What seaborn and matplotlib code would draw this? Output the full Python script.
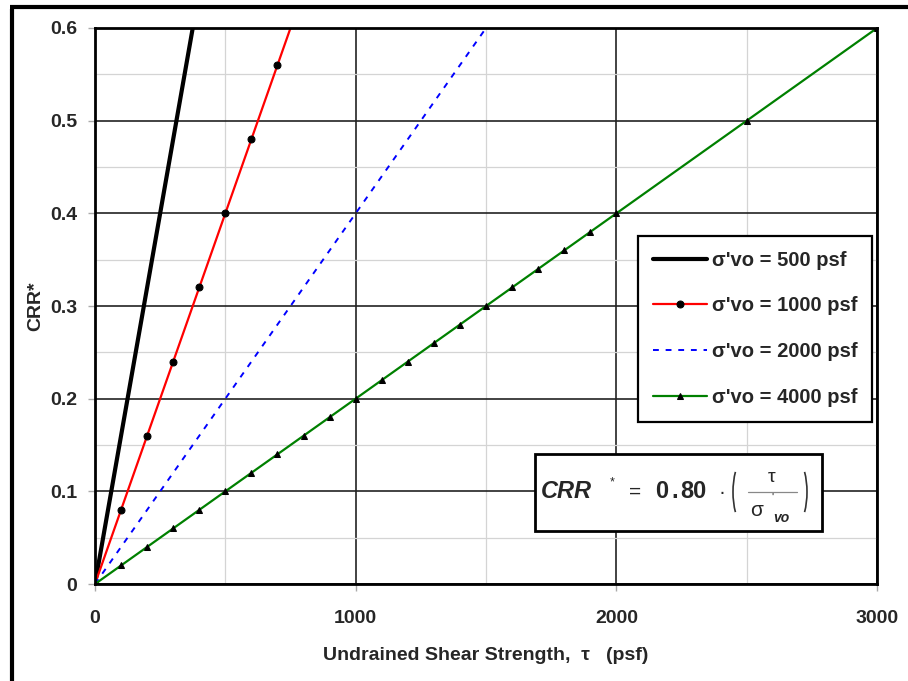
import matplotlib
matplotlib.use("Agg")
import matplotlib.pyplot as plt
from matplotlib.patches import Rectangle, Arc
from matplotlib.ticker import MultipleLocator
import numpy as np
import pandas as pd
import seaborn as sns

# values
tau_500 = [0, 375]
crr_500 = [0, 0.6]

tau_1000 = [0, 100, 200, 300, 400, 500, 600, 700, 750]
crr_1000 = [0, 0.08, 0.16, 0.24, 0.32, 0.40, 0.48, 0.56, 0.60]

tau_2000 = [0, 1500]
crr_2000 = [0, 0.6]

tau_4000 = [0, 100, 200, 300, 400, 500, 600, 700, 800, 900, 1000, 1100, 1200,
            1300, 1400, 1500, 1600, 1700, 1800, 1900, 2000, 2500, 3000]
crr_4000 = [0, 0.02, 0.04, 0.06, 0.08, 0.10, 0.12, 0.14, 0.16, 0.18, 0.20, 0.22,
            0.24, 0.26, 0.28, 0.30, 0.32, 0.34, 0.36, 0.38, 0.40, 0.50, 0.60]

labels = ["σ'vo = 500 psf", "σ'vo = 1000 psf", "σ'vo = 2000 psf", "σ'vo = 4000 psf"]

sns.set_style("white")
plt.rcParams['font.family'] = ['Liberation Sans', 'DejaVu Sans']

fig = plt.figure(figsize=(9.08, 6.81), dpi=100)
ax = fig.add_axes([0.1046, 0.1424, 0.8614, 0.8165])

sns.lineplot(x=tau_500, y=crr_500, ax=ax, color="black", lw=3, label=labels[0])
sns.lineplot(x=tau_1000, y=crr_1000, ax=ax, color="red", lw=1.6, marker="o",
             markersize=5, markerfacecolor="black", markeredgecolor="black",
             markevery=list(range(8)), label=labels[1])
sns.lineplot(x=tau_2000, y=crr_2000, ax=ax, color="blue", lw=1.4,
             dashes=False, label=labels[2])
ax.lines[-1].set_linestyle((0, (3, 3.5)))
sns.lineplot(x=tau_4000, y=crr_4000, ax=ax, color="green", lw=1.6, marker="^",
             markersize=5, markerfacecolor="black", markeredgecolor="black",
             label=labels[3])

ax.set_xlim(0, 3000)
ax.set_ylim(0, 0.6)
ax.xaxis.set_major_locator(MultipleLocator(1000))
ax.xaxis.set_minor_locator(MultipleLocator(500))
ax.yaxis.set_major_locator(MultipleLocator(0.1))
ax.yaxis.set_minor_locator(MultipleLocator(0.05))
ax.grid(which="major", color="#222222", lw=1.2)
ax.grid(which="minor", color="#d4d4d4", lw=0.9)
ax.set_axisbelow(True)
ax.set_yticks([0, 0.1, 0.2, 0.3, 0.4, 0.5, 0.6])
ax.set_yticklabels(["0", "0.1", "0.2", "0.3", "0.4", "0.5", "0.6"])
ax.tick_params(which="major", direction="out", length=5, width=1, color="#aaaaaa",
               labelsize=14, left=True, bottom=True)
ax.tick_params(axis="x", pad=14)
ax.tick_params(axis="y", pad=8)
ax.tick_params(which="minor", length=0)
for lab in ax.get_xticklabels() + ax.get_yticklabels():
    lab.set_fontweight("bold")
for sp in ax.spines.values():
    sp.set_color("black")
    sp.set_linewidth(2)

ax.set_xlabel("Undrained Shear Strength,  τ   (psf)", fontsize=14, fontweight="bold", labelpad=14)
ax.set_ylabel("CRR*", fontsize=14, fontweight="bold", labelpad=4)

leg = ax.legend(loc="upper right", bbox_to_anchor=(0.994, 0.626), borderaxespad=0,
                fancybox=False, framealpha=1, edgecolor="black", handlelength=2.7,
                handletextpad=0.25, labelspacing=1.33, borderpad=0.73,
                prop={"size": 14.5, "weight": "bold"})
leg.get_frame().set_linewidth(1.6)

# formula box, laid out in figure pixels on an overlay axes
ov = fig.add_axes([0, 0, 1, 1], facecolor="none")
ov.set_xlim(0, 908)
ov.set_ylim(681, 0)
ov.axis("off")
ov.add_patch(Rectangle((535, 454), 287, 77, fc="white", ec="black", lw=2, zorder=3))
kw = dict(va="center", zorder=4)
ov.text(541, 492, "CRR", fontsize=17, fontweight="bold", fontstyle="italic", ha="left", **kw)
ov.text(612, 482, "*", fontsize=9, ha="center", **kw)
ov.text(635, 492, "=", fontsize=15, ha="center", **kw)
ov.text(662, 492, "0", fontsize=17, fontweight="bold", ha="center", **kw)
ov.text(675, 492, ".", fontsize=17, fontweight="bold", ha="center", **kw)
ov.text(693, 492, "80", fontsize=17, fontweight="bold", ha="center", **kw)
ov.text(722, 492, "·", fontsize=15, ha="center", **kw)
ov.add_patch(Arc((749.5, 492), 33, 77, theta1=125, theta2=235, color="#333333", lw=1.2, zorder=4))
ov.add_patch(Arc((790.5, 492), 33, 77, theta1=-55, theta2=55, color="#333333", lw=1.2, zorder=4))
ov.text(772, 477, "τ", fontsize=14, ha="center", **kw)
ov.plot([748, 797], [492, 492], color="#888888", lw=0.9, zorder=4)
ov.text(757, 510, "σ", fontsize=15, ha="center", **kw)
ov.text(772, 498, "'", fontsize=8, ha="center", **kw)
ov.text(781, 518, "vo", fontsize=10, fontweight="bold", fontstyle="italic", ha="center", **kw)

# outer frame on left and top
ov.plot([11.5, 11.5], [9, 681], color="black", lw=3, solid_capstyle="butt")
ov.plot([10, 908], [6.5, 6.5], color="black", lw=3, solid_capstyle="butt")

fig.savefig("out.png", dpi=100)
